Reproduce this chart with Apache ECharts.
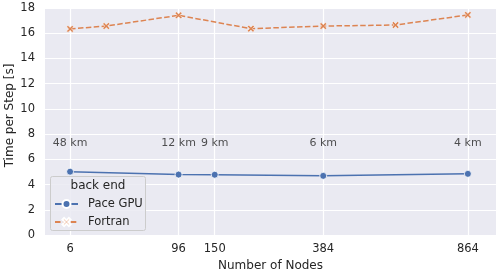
<!DOCTYPE html>
<html><head><meta charset="utf-8">
<script src="https://cdn.jsdelivr.net/npm/echarts@6/dist/echarts.min.js"></script>
<style>html,body{margin:0;padding:0;background:#fff}#c{width:500px;height:275px}</style>
</head><body><div id="c"></div>
<script>
const gpuNodes = [6, 96, 150, 384, 864];
const gpuTime = [5.02, 4.79, 4.78, 4.69, 4.85];
const fortranNodes = [6, 24, 96, 216, 384, 600, 864];
const fortranTime = [16.34, 16.57, 17.42, 16.36, 16.57, 16.65, 17.45];
const xTicks = [6, 96, 150, 384, 864];
const yTicks = [0, 2, 4, 6, 8, 10, 12, 14, 16, 18];
const resNodes = [6, 96, 150, 384, 864];
const resLabels = ['48 km', '12 km', '9 km', '6 km', '4 km'];
const resLabelY = 7.3;

const F = 'DejaVu Sans';
const TXT = '#262626';
const sq = v => Math.sqrt(v);
const xMark = 'path://M2,0 L5,3 L8,0 L10,2 L7,5 L10,8 L8,10 L5,7 L2,10 L0,8 L3,5 L0,2 Z';

const chart = echarts.init(document.getElementById('c'), null, {renderer: 'canvas'});
chart.setOption({
  animation: false,
  textStyle: {fontFamily: F},
  grid: {left: 45, right: 4, top: 8, bottom: 40, containLabel: false, outerBoundsMode: 'none',
         show: true, backgroundColor: '#EAEAF2', borderWidth: 0},
  xAxis: {
    type: 'value', min: 0.75, max: 31.3,
    name: 'Number of Nodes', nameLocation: 'middle', nameGap: 25, nameMoveOverlap: false,
    nameTextStyle: {fontFamily: F, fontSize: 12, color: TXT},
    axisLine: {show: false}, axisTick: {show: false, customValues: xTicks.map(sq)},
    axisLabel: {customValues: xTicks.map(sq), formatter: v => String(Math.round(v * v)), fontFamily: F, fontSize: 11.5, color: TXT, margin: 8},
    splitLine: {show: true, lineStyle: {color: '#ffffff', width: 1.2}}
  },
  yAxis: {
    type: 'value', min: 0, max: 18, interval: 2,
    name: 'Time per Step [s]', nameLocation: 'middle', nameGap: 29, nameMoveOverlap: false,
    nameTextStyle: {fontFamily: F, fontSize: 12, color: TXT, padding: [0, 0, 0, 12]},
    axisLine: {show: false}, axisTick: {show: false},
    axisLabel: {fontFamily: F, fontSize: 11.5, color: TXT, margin: 10, formatter: v => yTicks.includes(v) ? String(v) : ''},
    splitLine: {show: true, lineStyle: {color: '#ffffff', width: 1.2}}
  },
  legend: {
    orient: 'vertical', left: 54, top: 198, padding: 0, itemGap: 6, itemWidth: 23, itemHeight: 10, z: 20,
    textStyle: {fontFamily: F, fontSize: 11.5, color: TXT, padding: [0, 0, 0, 5]},
    data: ['Pace GPU', 'Fortran']
  },
  graphic: [
    {type: 'rect', z: 10, shape: {x: 50.5, y: 176.5, width: 95, height: 54, r: 2},
     style: {fill: 'rgba(234,234,242,0.85)', stroke: '#cccccc', lineWidth: 1}},
    {type: 'text', z: 11, x: 98, y: 186, style: {text: 'back end', font: '12px "DejaVu Sans"', fill: TXT, align: 'center', verticalAlign: 'middle'}}
  ],
  series: [
    {
      name: 'Pace GPU', type: 'line', z: 3,
      data: gpuNodes.map((n, i) => [sq(n), gpuTime[i]]),
      symbol: 'circle', symbolSize: 7,
      lineStyle: {color: '#4C72B0', width: 1.5},
      itemStyle: {color: '#4C72B0', borderColor: '#ffffff', borderWidth: 0.8}
    },
    {
      name: 'Fortran', type: 'line', z: 3,
      data: fortranNodes.map((n, i) => [sq(n), fortranTime[i]]),
      symbol: xMark, symbolSize: 7,
      lineStyle: {color: '#DD8452', width: 1.5, type: [5.5, 2.4]},
      itemStyle: {color: '#DD8452', borderColor: '#ffffff', borderWidth: 0.5}
    },
    {
      name: 'res', type: 'scatter', z: 4, silent: true,
      data: resNodes.map((n, i) => ({value: [sq(n), resLabelY], label: {formatter: resLabels[i]}})),
      symbolSize: 0,
      label: {show: true, position: 'inside', fontFamily: F, fontSize: 11, color: TXT}
    }
  ]
});
</script></body></html>
